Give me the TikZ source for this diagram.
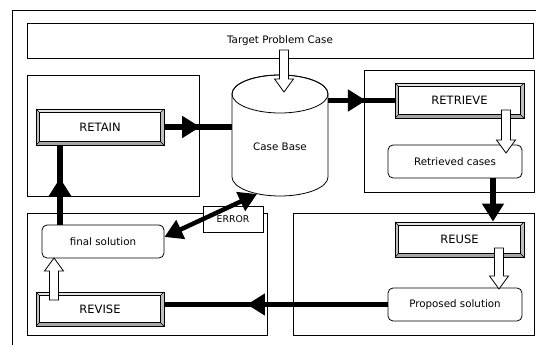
\documentclass[tikz,border=0pt]{standalone}
\usepackage{fontspec}
\setmainfont{DejaVu Sans}
\usetikzlibrary{arrows.meta,decorations.markings,calc}
\begin{document}
\begin{tikzpicture}[x=1pt,y=1pt,
  lw/.style={line width=0.8pt},
  frame/.style={draw, lw},
  lbl/.style={font=\fontsize{10.3}{12}\selectfont},
  boxr/.style={draw, lw, fill=white, rounded corners=5pt, inner sep=0pt, lbl},
  btn/.style={draw, lw, fill=gray!50, inner sep=0pt, font=\fontsize{11.5}{13}\selectfont,
    path picture={
      \coordinate (pNW) at (path picture bounding box.north west);
      \coordinate (pNE) at (path picture bounding box.north east);
      \coordinate (pSW) at (path picture bounding box.south west);
      \coordinate (pSE) at (path picture bounding box.south east);
      \coordinate (iNW) at ([shift={(3.5pt,-3.5pt)}]pNW);
      \coordinate (iNE) at ([shift={(-3.5pt,-3.5pt)}]pNE);
      \coordinate (iSW) at ([shift={(3.5pt,3.5pt)}]pSW);
      \coordinate (iSE) at ([shift={(-3.5pt,3.5pt)}]pSE);
      \fill[gray!22] (pNW) -- (pNE) -- (iNE) -- (iNW) -- cycle;
      \fill[gray!70] (pSW) -- (pSE) -- (iSE) -- (iSW) -- cycle;
      \draw[lw, fill=white] (iNW) rectangle (iSE);
      \draw[line width=0.6pt] (pNW) -- (iNW) (pNE) -- (iNE) (pSW) -- (iSW) (pSE) -- (iSE);
    }},
  blk/.style={line width=5.5pt},
  tipb/.style={-{Triangle[length=18pt,width=21pt]}},
  midarrow/.style={postaction={decorate}, decoration={markings, mark=at position #1 with {\arrow{Triangle[length=18pt,width=21pt]}}}},
  warrow/.style={draw, lw, fill=white, to path={let \p1=(\tikztostart), \p2=(\tikztotarget), \n1={(\y2>\y1) ? -13 : 13} in
      (\x1-4.5,\y1) -- (\x1-4.5,\y2+\n1) -- (\x1-9.5,\y2+\n1) -- (\x2,\y2) -- (\x1+9.5,\y2+\n1) -- (\x1+4.5,\y2+\n1) -- (\x1+4.5,\y1) -- cycle}},
]
\useasboundingbox (0,0) rectangle (536,345);
% outer frame
\draw[lw] (12,0) -- (12,335) -- (536,335);
% target
\node[frame, lbl, minimum width=506pt, minimum height=35pt, inner sep=0pt] (tp) at (280,304.5) {Target Problem Case};
% phase frames
\draw[frame] (27,270) rectangle (199,149);
\draw[frame] (364,275) rectangle (534,153);
\draw[frame] (293,132) rectangle (534,10);
\draw[frame] (27,132) rectangle (267,10);
% error box
\node[frame, fill=white, minimum width=60pt, minimum height=26pt, inner sep=0pt, font=\fontsize{9.3}{11}\selectfont] (err) at (233,126) {ERROR};
% case base cylinder
\draw[lw, fill=white] (232,251) -- (232,168) arc[start angle=180, end angle=360, x radius=48, y radius=19] -- (328,251) arc[start angle=0, end angle=180, x radius=48, y radius=19] -- cycle;
\draw[lw] (280,251) ellipse[x radius=48, y radius=19];
\node[lbl] (cb) at (280,198) {Case Base};
\coordinate (cbW) at (232,218);
\coordinate (cbE) at (328,244.5);
\coordinate (cbB) at (257,151);
% buttons
\node[btn, minimum width=128pt, minimum height=36pt] (ra) at (100,218) {RETAIN};
\node[btn, minimum width=129pt, minimum height=35pt] (rt) at (459.5,244.5) {RETRIEVE};
\node[btn, minimum width=129pt, minimum height=35pt] (ru) at (459.5,105.5) {REUSE};
\node[btn, minimum width=128pt, minimum height=34pt] (rv) at (100,36) {REVISE};
% rounded boxes
\node[boxr, minimum width=134pt, minimum height=33pt] (rc) at (455,183.5) {Retrieved cases};
\node[boxr, minimum width=134pt, minimum height=33pt] (ps) at (455,40.5) {Proposed solution};
\node[boxr, minimum width=122pt, minimum height=33pt] (fs) at (103,103.5) {final solution};
% black connectors
\draw[blk, midarrow=0.53] (ra.east) -- (ra.east -| cbW);
\draw[blk, midarrow=0.57] (cbE) -- (rt.west);
\draw[blk, tipb] ([xshift=38pt]rc.south) -- ([xshift=38pt]rc.south |- ru.north);
\draw[blk, midarrow=0.63] (ps.west) -- (ps.west -| rv.east);
\draw[blk, midarrow=0.59] ([xshift=-43pt]fs.north) -- ([xshift=-43pt]fs.north |- ra.south);
\draw[line width=4.5pt, {Triangle[length=18pt,width=20pt]}-{Triangle[length=18pt,width=20pt]}] ([yshift=4.5pt]fs.east) -- (cbB);
% white arrows
\coordinate (w1s) at (284,295);
\coordinate (w1e) at (284,253);
\draw[warrow] (w1s) to (w1e);
\coordinate (w2s) at (506,235);
\coordinate (w2e) at (506,192);
\draw[warrow] (w2s) to (w2e);
\coordinate (w3s) at (499,97);
\coordinate (w3e) at (499,56);
\draw[warrow] (w3s) to (w3e);
\coordinate (w4s) at (54,45);
\coordinate (w4e) at (54,87);
\draw[warrow] (w4s) to (w4e);
\end{tikzpicture}
\end{document}
